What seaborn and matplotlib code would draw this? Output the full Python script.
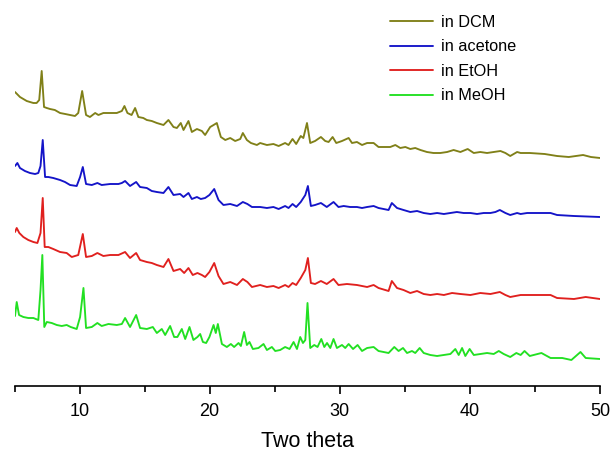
import numpy as np
import pandas as pd
import matplotlib
matplotlib.use("Agg")
import matplotlib.pyplot as plt
import seaborn as sns

# ---- data (2theta, intensity in arbitrary units) ----
dcm_x = [5.04, 5.42, 5.68, 5.94, 6.19, 6.45, 6.7, 6.9, 7.09, 7.27, 7.48, 7.73, 8.1, 8.5, 8.9, 9.27, 9.65, 9.9, 10.2, 10.5,
         10.8, 11.2, 11.45, 11.83, 12.35, 12.86, 13.25, 13.45, 13.68, 14.0, 14.27, 14.52, 14.9, 15.17, 15.55, 15.94, 16.45, 16.83, 17.22, 17.48,
         17.78, 17.99, 18.37, 18.63, 19.02, 19.4, 19.65, 20.04, 20.3, 20.55, 20.86, 21.2, 21.58, 21.96, 22.35, 22.55, 22.86, 23.17, 23.63, 23.88,
         24.4, 24.9, 25.3, 25.8, 26.06, 26.37, 26.65, 27.0, 27.2, 27.48, 27.73, 28.1, 28.55, 28.88, 29.14, 29.45, 29.73, 30.17, 30.68, 30.94,
         31.32, 31.71, 32.1, 32.6, 32.98, 33.5, 33.88, 34.27, 34.65, 35.04, 35.42, 35.8, 36.2, 36.7, 37.2, 37.73, 38.25, 38.75, 39.27, 39.83,
         40.3, 40.8, 41.32, 41.83, 42.35, 42.73, 43.1, 43.63, 43.9, 44.6, 45.75, 46.7, 47.6, 48.7, 49.3, 50.0]
dcm_y = [294, 289, 287, 285, 284, 283, 283, 286, 315, 279, 278, 277, 276, 273, 272, 271, 270, 273, 295, 271,
         269, 273, 271, 273, 273, 273, 275, 280, 273, 271, 278, 269, 268, 266, 265, 263, 261, 266, 259, 258,
         263, 256, 265, 254, 257, 255, 251, 259, 261, 263, 249, 246, 248, 245, 247, 253, 246, 243, 241, 243,
         241, 242, 240, 243, 241, 247, 242, 250, 248, 263, 243, 245, 249, 245, 244, 249, 243, 245, 248, 243,
         244, 241, 243, 243, 239, 239, 239, 241, 238, 239, 237, 238, 236, 234, 233, 233, 234, 236, 234, 237,
         233, 234, 233, 234, 235, 233, 230, 234, 233, 233, 232, 230, 229, 231, 229, 228]

acetone_x = [5.04, 5.22, 5.42, 5.8, 6.19, 6.58, 6.83, 7.0, 7.17, 7.35, 7.6, 7.98, 8.5, 8.88, 9.27, 9.78, 10.04, 10.25, 10.5, 10.94,
             11.37, 11.7, 12.35, 12.99, 13.25, 13.5, 13.88, 14.35, 14.65, 15.17, 15.55, 15.94, 16.45, 16.83, 17.22, 17.73, 17.99, 18.37, 18.63, 19.02,
             19.32, 19.65, 19.98, 20.35, 20.68, 21.06, 21.58, 22.1, 22.55, 22.9, 23.25, 23.88, 24.4, 24.9, 25.3, 25.8, 26.06, 26.37, 26.65, 27.0,
             27.35, 27.55, 27.78, 28.1, 28.55, 29.0, 29.52, 29.9, 30.3, 30.8, 31.32, 31.71, 32.1, 32.6, 32.98, 33.75, 34.0, 34.4, 34.9, 35.42,
             35.94, 36.45, 36.96, 37.48, 38.0, 38.5, 39.0, 39.52, 40.04, 40.55, 41.06, 41.58, 41.96, 42.3, 42.73, 43.1, 43.63, 43.9, 44.4, 46.2,
             46.7, 48.0, 50.0]
acetone_y = [220, 223, 218, 215, 213, 212, 213, 220, 246, 209, 209, 208, 206, 204, 201, 200, 209, 219, 202, 201,
             203, 201, 202, 202, 203, 205, 200, 204, 199, 198, 195, 194, 193, 199, 191, 192, 189, 193, 187, 189,
             187, 188, 191, 197, 186, 181, 182, 180, 184, 182, 179, 179, 178, 179, 177, 180, 178, 182, 179, 184,
             191, 200, 180, 181, 183, 179, 184, 179, 180, 179, 179, 178, 179, 180, 178, 176, 183, 178, 176, 174,
             175, 173, 172, 173, 172, 173, 174, 173, 173, 172, 173, 173, 174, 176, 173, 171, 173, 172, 173, 173,
             171, 170, 169]

etoh_x = [5.04, 5.17, 5.37, 5.68, 6.06, 6.45, 6.76, 7.0, 7.17, 7.32, 7.6, 7.98, 8.5, 9.01, 9.4, 9.9, 10.25, 10.5, 10.94, 11.37,
          11.83, 12.35, 12.99, 13.5, 13.88, 14.35, 14.65, 15.17, 15.55, 15.94, 16.45, 16.83, 17.22, 17.73, 18.04, 18.37, 18.7, 19.06, 19.4, 19.65,
          19.98, 20.35, 20.68, 21.06, 21.58, 22.1, 22.55, 22.9, 23.25, 23.88, 24.4, 24.9, 25.3, 25.8, 26.06, 26.37, 26.65, 27.0, 27.35, 27.55,
          27.78, 28.1, 28.55, 29.0, 29.52, 29.9, 30.55, 31.32, 32.1, 32.6, 32.98, 33.75, 34.0, 34.4, 34.9, 35.42, 35.94, 36.45, 36.96, 37.48,
          38.0, 38.63, 39.27, 40.04, 40.8, 41.58, 42.3, 42.73, 43.1, 43.9, 46.2, 46.7, 48.0, 48.9, 50.0]
etoh_y = [154, 158, 153, 149, 146, 144, 143, 153, 188, 139, 139, 137, 134, 133, 129, 131, 152, 129, 130, 133,
          130, 131, 131, 134, 128, 133, 126, 124, 123, 121, 119, 127, 115, 117, 113, 118, 111, 113, 111, 109,
          114, 123, 110, 102, 104, 101, 107, 104, 99, 101, 99, 100, 98, 101, 99, 103, 101, 108, 116, 128,
          103, 102, 105, 102, 107, 101, 102, 101, 99, 101, 98, 95, 105, 98, 96, 93, 95, 92, 91, 92,
          91, 93, 92, 91, 93, 92, 94, 91, 89, 91, 91, 88, 87, 89, 87]

meoh_x = [5.04, 5.17, 5.35, 5.68, 6.06, 6.45, 6.83, 7.0, 7.14, 7.29, 7.48, 7.86, 8.25, 8.63, 9.01, 9.32, 9.78, 10.04, 10.3, 10.5,
          10.94, 11.37, 11.7, 12.22, 12.86, 13.25, 13.5, 13.88, 14.35, 14.65, 15.17, 15.63, 15.94, 16.32, 16.58, 16.96, 17.27, 17.52, 17.86, 18.12,
          18.45, 18.75, 19.06, 19.27, 19.48, 19.73, 19.98, 20.3, 20.47, 20.63, 20.94, 21.32, 21.63, 21.88, 22.22, 22.4, 22.65, 22.86, 23.06, 23.32,
          23.75, 24.14, 24.4, 24.78, 25.04, 25.42, 25.8, 26.14, 26.45, 26.71, 26.96, 27.17, 27.35, 27.52, 27.73, 28.04, 28.29, 28.58, 28.81, 29.02,
          29.27, 29.52, 29.78, 30.17, 30.42, 30.68, 31.02, 31.37, 31.71, 32.1, 32.6, 32.98, 33.37, 33.75, 34.19, 34.52, 34.86, 35.17, 35.55, 35.8,
          36.14, 36.45, 36.96, 37.48, 38.0, 38.5, 38.88, 39.14, 39.4, 39.65, 39.98, 40.3, 40.8, 41.32, 41.83, 42.22, 42.6, 43.1, 43.57, 43.9,
          44.2, 44.6, 45.5, 46.2, 47.1, 47.8, 48.5, 48.9, 50.0]
meoh_y = [70, 84, 71, 69, 68, 68, 66, 96, 131, 59, 64, 63, 61, 60, 61, 59, 57, 69, 98, 58,
          59, 63, 60, 62, 61, 62, 68, 59, 71, 58, 57, 59, 53, 57, 51, 60, 49, 49, 57, 47,
          59, 46, 49, 52, 44, 43, 49, 61, 53, 62, 42, 39, 42, 39, 43, 40, 54, 41, 44, 37,
          38, 42, 36, 39, 35, 36, 39, 37, 44, 37, 49, 43, 46, 83, 38, 41, 39, 47, 39, 43,
          38, 47, 38, 41, 38, 42, 37, 41, 35, 38, 39, 35, 34, 33, 39, 35, 38, 33, 35, 33,
          38, 33, 31, 30, 31, 32, 37, 31, 38, 30, 37, 31, 32, 33, 32, 35, 32, 29, 33, 31,
          35, 30, 33, 28, 28, 26, 34, 28, 27]

labels = ["in DCM", "in acetone", "in EtOH", "in MeOH"]
colors = ["#808018", "#1414C8", "#E0201E", "#22E022"]
x_ticks = [10, 20, 30, 40, 50]
x_minor = [5, 15, 25, 35, 45]

frames = []
for lab, xs, ys in zip(labels, [dcm_x, acetone_x, etoh_x, meoh_x],
                       [dcm_y, acetone_y, etoh_y, meoh_y]):
    frames.append(pd.DataFrame({"theta": xs, "intensity": ys, "sample": lab}))
df = pd.concat(frames, ignore_index=True)

sns.set_theme(style="white")
plt.rcParams["font.family"] = ["Liberation Sans", "DejaVu Sans"]
plt.rcParams["text.color"] = "black"
plt.rcParams["axes.labelcolor"] = "black"
plt.rcParams["xtick.color"] = "black"

fig = plt.figure(figsize=(6.13, 4.54), dpi=100)
ax = fig.add_axes([14.5 / 613, 68 / 454, (600 - 14.5) / 613, 386 / 454])

sns.lineplot(data=df, x="theta", y="intensity", hue="sample", hue_order=labels,
             palette=colors, estimator=None, sort=False, linewidth=1.35, ax=ax)

ax.set_xlim(5, 50)
ax.set_ylim(0, 386)
ax.set_xticks(x_ticks)
ax.set_xticklabels([str(t) for t in x_ticks], fontsize=13, color="black")
ax.set_xticks(x_minor, minor=True)
ax.tick_params(axis="x", which="major", direction="out", length=6, width=1.2,
               bottom=True, pad=6, colors="black")
ax.tick_params(axis="x", which="minor", direction="out", length=4, width=1.2,
               bottom=True, colors="black")
ax.set_yticks([])
ax.set_ylabel("")
ax.set_xlabel("Two theta", fontsize=15.5, labelpad=8, color="black")
for s in ["top", "right", "left"]:
    ax.spines[s].set_visible(False)
ax.spines["bottom"].set_color("black")
ax.spines["bottom"].set_linewidth(1.2)

handles, lbls = ax.get_legend_handles_labels()
leg = ax.legend(handles, lbls, loc="upper left", bbox_to_anchor=(390 / 613, 1 - 15 / 454),
                bbox_transform=fig.transFigure, frameon=False, fontsize=11.7,
                handlelength=2.65, handletextpad=0.49, labelspacing=0.58,
                borderpad=0, borderaxespad=0)
for t in leg.get_texts():
    t.set_color("black")

fig.savefig("out.png", dpi=100)
